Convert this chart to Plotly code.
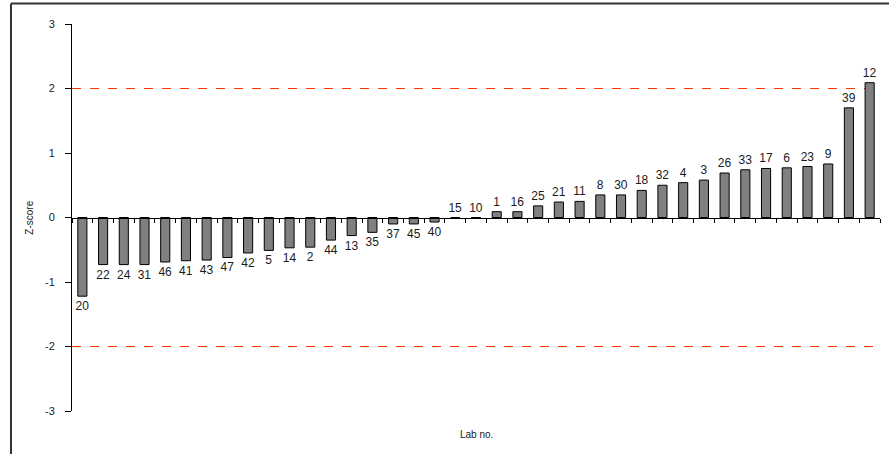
import plotly.graph_objects as go

labs = ["20", "22", "24", "31", "46", "41", "43", "47", "42", "5", "14", "2", "44", "13",
        "35", "37", "45", "40", "15", "10", "1", "16", "25", "21", "11", "8", "30", "18",
        "32", "4", "3", "26", "33", "17", "6", "23", "9", "39", "12"]
zscores = [-1.22, -0.73, -0.73, -0.73, -0.69, -0.67, -0.66, -0.62, -0.55, -0.51, -0.47, -0.46,
           -0.35, -0.28, -0.23, -0.10, -0.10, -0.07, 0.0, 0.0, 0.09, 0.09, 0.18, 0.24, 0.25,
           0.35, 0.35, 0.42, 0.50, 0.54, 0.58, 0.69, 0.74, 0.76, 0.77, 0.79, 0.83, 1.70, 2.09]
limits = [2, -2]
y_ticks = [3, 2, 1, 0, -1, -2, -3]
y_tick_labels = ["3", "2", "1", "0", "-1", "-2", "-3"]

FONT = "Liberation Sans, Arial, sans-serif"
TXT = "#1a1a1a"

fig = go.Figure()
fig.add_trace(go.Bar(
    x=labs, y=zscores,
    text=labs, textposition="outside",
    constraintext="none",
    textfont=dict(family=FONT, size=12, color=TXT),
    outsidetextfont=dict(family=FONT, size=12, color=TXT),
    marker=dict(color="#808080", line=dict(color="#000000", width=1)),
    cliponaxis=False,
))

for lim in limits:
    fig.add_shape(type="line", xref="paper", yref="y", x0=0, x1=1, y0=lim, y1=lim,
                  line=dict(color="#FF3300", width=1, dash="dash"), layer="below")

# outer frame (top and left)
fig.add_shape(type="line", xref="paper", yref="paper", x0=-0.0755, x1=1.02, y0=1.053, y1=1.053,
              line=dict(color="#333333", width=2))
fig.add_shape(type="line", xref="paper", yref="paper", x0=-0.0755, x1=-0.0755, y0=1.053, y1=-0.12,
              line=dict(color="#333333", width=2))

fig.add_annotation(text="Z-score", xref="paper", yref="paper", x=-0.053, y=0.5,
                   xanchor="center", yanchor="middle",
                   textangle=-90, showarrow=False,
                   font=dict(family=FONT, size=10, color=TXT))
fig.add_annotation(text="Lab no.", xref="paper", yref="paper", x=0.5, y=-0.062,
                   xanchor="center", yanchor="middle",
                   showarrow=False, font=dict(family=FONT, size=10, color=TXT))

fig.update_layout(
    width=889, height=454,
    margin=dict(l=72, r=9, t=24, b=43),
    paper_bgcolor="white", plot_bgcolor="white",
    showlegend=False,
    bargap=0.56,
    font=dict(family=FONT, size=11, color=TXT),
    xaxis=dict(type="category", showticklabels=False, ticks="outside", ticklen=4,
               tickson="boundaries", tickcolor="#000", showline=True, linecolor="#000",
               linewidth=1, showgrid=False, zeroline=False, anchor="free", position=0.5,
               layer="above traces", automargin=False),
    yaxis=dict(range=[-3, 3], tickvals=y_ticks, ticktext=y_tick_labels,
               ticks="outside", ticklen=6, ticklabelstandoff=8,
               tickcolor="#000", showline=True, linecolor="#000", linewidth=1,
               showgrid=False, zeroline=False, tickfont=dict(size=11),
               domain=[0, 1], automargin=False),
)

fig.write_html("out.html", config={"displayModeBar": False},
               post_script="document.body.style.margin='0';document.body.style.overflow='hidden';")
